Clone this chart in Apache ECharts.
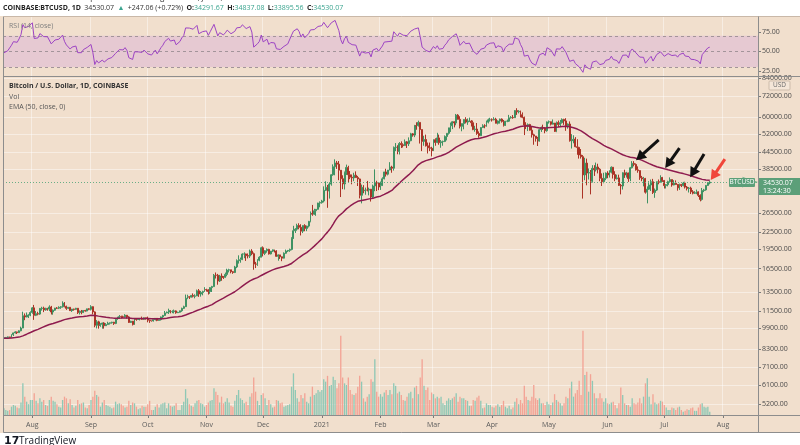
<!DOCTYPE html>
<html>
<head>
<meta charset="utf-8">
<script src="https://cdn.jsdelivr.net/npm/echarts@6/dist/echarts.min.js"></script>
<style>
  html, body { margin: 0; padding: 0; background: #ffffff; }
  #chart { width: 800px; height: 445px; }
</style>
</head>
<body>
<div id="chart"></div>
<script>
// BTCUSD daily, Coinbase, 2020-07-17 .. 2021-07-25 (values read off the picture / estimated)
const startDay = Date.UTC(2020, 6, 17);
const dayCount = 399; // categories incl. empty days on the right side
const firstOpen = 9130;

const closes = [
  // Jul 2020 (17-31)
  9150, 9170, 9210, 9160, 9390, 9530, 9610, 9550, 9700, 9930, 11030, 10920, 11100, 11110, 11350,
  // Aug
  11800, 11070, 11230, 11190, 11740, 11770, 11600, 11750, 11680, 11890, 11390, 11570, 11780, 11770, 11860, 11910,
  12290, 11960, 11750, 11860, 11520, 11680, 11650, 11760, 11330, 11460, 11330, 11540, 11480, 11700, 11660,
  // Sep
  11920, 11400, 10170, 10470, 10160, 10250, 10370, 10130, 10230, 10350, 10390, 10440, 10330, 10680, 10790,
  10950, 10940, 10930, 11080, 10920, 10420, 10530, 10240, 10740, 10690, 10730, 10770, 10700, 10840, 10780,
  // Oct
  10620, 10570, 10550, 10670, 10790, 10600, 10670, 10920, 11060, 11300, 11380, 11540, 11430, 11430, 11500, 11320,
  11370, 11510, 11750, 11920, 12820, 12970, 12930, 13120, 13030, 13070, 13650, 13280, 13460, 13560, 13800,
  // Nov
  13760, 13560, 14030, 14150, 15590, 15580, 14840, 15480, 15330, 15310, 15700, 16290, 16330, 16070, 15960,
  16730, 17660, 17800, 17820, 18680, 18700, 18430, 18370, 19160, 18740, 17150, 17140, 17720, 18180, 19710,
  // Dec
  18790, 19220, 19450, 18700, 19150, 19370, 19180, 18320, 18550, 18250, 18040, 18810, 19170, 19280, 19440, 21350,
  22800, 23110, 23840, 23480, 22720, 23830, 23250, 23720, 24690, 26440, 26250, 27040, 27370, 28880, 28990,
  // Jan 2021
  29390, 32200, 33000, 31990, 33950, 36770, 39380, 40670, 40240, 38240, 35540, 34010, 37390, 39150, 36770, 36020,
  35800, 36630, 35890, 35470, 30850, 33020, 32080, 32260, 32250, 32510, 30420, 33410, 34300, 34290, 33110,
  // Feb
  33520, 35510, 37660, 36950, 38290, 39260, 38880, 46450, 46530, 44850, 48010, 47500, 47170, 48700,
  47940, 49170, 52150, 51590, 55920, 55900, 57490, 54090, 48890, 49680, 47060, 46280, 46110, 45140,
  // Mar
  49590, 48440, 50370, 48370, 48760, 48880, 50970, 52390, 54880, 55850, 57800, 57230, 61190, 59000, 55610, 56900,
  58910, 57650, 58050, 58100, 57350, 54080, 54340, 52300, 51310, 55030, 55840, 55780, 57620, 58770, 58800,
  // Apr
  58740, 59060, 57060, 58200, 59130, 57990, 56000, 58090, 58090, 59770, 59990, 59860, 63590, 62960, 63220,
  61400, 60030, 56230, 55720, 56470, 53800, 51730, 51150, 50110, 49080, 54020, 55020, 54830, 53560, 57720,
  // May
  57830, 56610, 57200, 53240, 57480, 56430, 57380, 58960, 58240, 55840, 56710, 49150, 49720, 49880, 46730, 46430,
  43540, 42910, 36720, 40620, 37310, 37460, 34770, 38830, 38360, 39290, 38540, 35660, 34650, 35680, 37300,
  // Jun
  36690, 37580, 39200, 36850, 35540, 35800, 33580, 33400, 37390, 36690, 37340, 35550, 39020, 40520, 40160,
  38340, 38090, 35820, 35490, 35600, 31680, 32510, 33690, 34640, 31600, 32260, 34650, 34480, 35870, 35040,
  // Jul (1-25)
  33520, 33800, 34670, 35290, 33690, 34220, 33860, 32880, 33810, 33510, 34260, 33090, 32730,
  32820, 31780, 31400, 31530, 31780, 30840, 29790, 32140, 32310, 33580, 34291.67, 34530.07
];

const highs = [
  9190, 9190, 9240, 9220, 9420, 9550, 9670, 9630, 9740, 10050, 11420, 11250, 11340, 11170, 11460,
  11880, 12100, 11480, 11420, 11790, 11910, 11920, 11810, 11800, 12060, 12000, 11640, 11800, 11870, 11960, 11980,
  12480, 12400, 12020, 11890, 11880, 11690, 11710, 11800, 11780, 11540, 11590, 11580, 11600, 11720, 11760,
  12070, 11950, 11460, 10630, 10570, 10350, 10400, 10440, 10360, 10480, 10400, 10480, 10470, 10790, 10940,
  11100, 11040, 11040, 11180, 11100, 10990, 10570, 10550, 10770, 10760, 10790, 10800, 10950, 10860, 10850,
  10950, 10670, 10600, 10690, 10800, 10800, 10690, 10960, 11110, 11490, 11440, 11720, 11560, 11560, 11630, 11550,
  11420, 11520, 11820, 12020, 13220, 13200, 13030, 13160, 13350, 13250, 13790, 13860, 13630, 13660, 14080,
  13890, 13830, 14070, 14240, 15760, 15960, 15770, 15640, 15840, 15470, 15950, 16480, 16480, 16330, 16150,
  16890, 17850, 18480, 18130, 18800, 18960, 18750, 18780, 19410, 19480, 18920, 17470, 17880, 18340, 19870,
  19940, 19300, 19600, 19530, 19160, 19420, 19390, 19300, 18640, 18560, 18290, 18950, 19410, 19350, 19570, 21560,
  23780, 23300, 24200, 24300, 24100, 23840, 24100, 23800, 24790, 26880, 28420, 27500, 27400, 28950, 29300,
  29680, 33300, 34790, 33700, 34500, 36940, 40180, 41950, 41380, 41350, 38290, 36600, 37800, 40100, 39700, 37950,
  36850, 37400, 37850, 36400, 35600, 33800, 33640, 32950, 34880, 32940, 32560, 33800, 38500, 34930, 34400,
  34700, 35980, 37700, 38700, 38300, 40950, 39700, 46800, 48200, 47300, 48600, 48900, 48100, 49700,
  49000, 50600, 52600, 52500, 56300, 57550, 58350, 57500, 54200, 51300, 51800, 48400, 48400, 46700,
  49800, 50200, 52600, 51800, 49450, 49200, 51450, 52400, 54900, 57400, 58100, 58000, 61800, 61700, 60600, 56900,
  58980, 60100, 59450, 59900, 58600, 58400, 55850, 57200, 53250, 55100, 56600, 56600, 58400, 59400, 59800,
  59500, 60100, 59800, 58500, 59400, 59500, 58700, 58200, 58900, 61300, 60700, 61200, 63800, 64900, 63800,
  63600, 62600, 60400, 57600, 57000, 56800, 55500, 52200, 51200, 50800, 54400, 55500, 56400, 55200, 57950,
  58450, 57900, 58950, 57200, 57950, 58400, 58700, 59500, 59300, 59600, 57000, 58000, 52000, 51500, 50700, 49800,
  46700, 45800, 43500, 42500, 42200, 38800, 38300, 39900, 39900, 40800, 40400, 38900, 37200, 37400, 37500,
  37900, 38200, 39500, 39300, 37900, 36800, 36800, 34000, 37550, 38400, 37700, 37450, 39300, 41300, 41300,
  40500, 39500, 38200, 36400, 36100, 35800, 33300, 34800, 35300, 35500, 32700, 34700, 35300, 36600, 36100,
  35100, 33950, 34950, 35950, 35300, 35100, 35050, 33950, 34100, 34000, 34600, 34650, 33400,
  33100, 33200, 32250, 31950, 32400, 31900, 31100, 32850, 32600, 33650, 34500, 34837.08
];

const lows = [
  9080, 9120, 9120, 9140, 9150, 9280, 9480, 9440, 9530, 9660, 9920, 10620, 10880, 10820, 10990,
  11220, 10650, 11000, 11070, 11120, 11530, 11380, 11520, 11520, 11470, 11150, 11130, 11510, 11690, 11680, 11700,
  11830, 11850, 11600, 11680, 11510, 11400, 11520, 11600, 11200, 11150, 11170, 11300, 11420, 11450, 11570,
  11540, 11160, 10000, 9900, 9880, 10040, 9880, 9880, 10110, 10210, 10230, 10310, 10200, 10270, 10650,
  10730, 10780, 10820, 10870, 10770, 10370, 10370, 10150, 10200, 10570, 10660, 10600, 10650, 10640, 10670,
  10430, 10380, 10490, 10500, 10600, 10530, 10580, 10590, 10820, 11020, 11270, 11200, 11260, 11280, 11250, 11220,
  11290, 11330, 11410, 11690, 11890, 12710, 12730, 12890, 12900, 12800, 13050, 12960, 12990, 13130, 13550,
  13560, 13220, 13300, 13510, 14120, 15160, 14380, 14720, 14870, 15100, 15260, 15450, 15970, 15850, 15780,
  15880, 16560, 17220, 17350, 17740, 18030, 17620, 18000, 18060, 18500, 16340, 16570, 16890, 17570, 18180,
  18310, 18520, 18900, 18600, 18620, 19000, 18930, 18240, 17650, 17920, 17580, 18000, 18720, 19000, 19040, 19290,
  21250, 22370, 22800, 23080, 21900, 22350, 22700, 22720, 23450, 24500, 25900, 26100, 25890, 27300, 27850,
  28730, 29030, 32000, 27730, 30000, 33500, 36450, 36600, 38650, 35100, 30400, 32500, 32420, 36700, 34400, 35400,
  33900, 34800, 35800, 33400, 30050, 28800, 31400, 31000, 31900, 30830, 29250, 29950, 31950, 32000, 32250,
  32300, 33420, 35360, 36200, 36570, 38220, 37400, 38100, 45000, 43800, 43700, 46200, 46400, 47050,
  46200, 47000, 48950, 50900, 50700, 54000, 55500, 48000, 45000, 47100, 46800, 44100, 45000, 43000,
  45000, 47100, 48150, 47500, 46300, 47100, 48600, 49300, 51800, 53000, 54300, 55100, 56100, 58900, 54600, 53300,
  54200, 57000, 56300, 57700, 55500, 53800, 53100, 51700, 50400, 51300, 54800, 54700, 55400, 57000, 57900,
  57900, 58500, 57000, 56500, 56900, 57400, 55500, 55800, 57600, 57700, 59400, 59300, 59800, 61300, 62100,
  60000, 59600, 51600, 54300, 53400, 53600, 50500, 47500, 48800, 47000, 48800, 53000, 53900, 52400, 53100,
  56900, 56000, 56500, 53000, 52900, 55300, 55300, 56900, 56300, 53500, 54500, 48800, 46000, 48100, 46500, 43600,
  42200, 42200, 30000, 35100, 33600, 35300, 31100, 34400, 36400, 37800, 37200, 34800, 33400, 34200, 35100,
  35700, 35900, 37200, 35600, 34800, 35300, 33400, 31100, 32400, 35800, 35900, 34600, 34800, 38800, 39500,
  38100, 37400, 35200, 34800, 33300, 31300, 28800, 32300, 32000, 31200, 30200, 32000, 33900, 34300, 34600,
  32700, 32700, 33300, 34300, 33200, 33600, 33800, 32100, 32300, 33100, 33300, 32700, 32150,
  31600, 31200, 31100, 31200, 31150, 30400, 29300, 29500, 31700, 32100, 33400, 33895.56
];

// volume, thousands of BTC
const volumes = [
  8, 6, 5, 6, 10, 12, 11, 9, 8, 15, 38, 22, 16, 13, 18,
  18, 26, 17, 14, 20, 16, 18, 12, 11, 18, 22, 17, 16, 13, 10, 9, 18, 22, 20, 14, 19, 12, 9, 11, 18, 13, 14, 15, 9, 8, 12,
  18, 22, 29, 24, 22, 10, 15, 18, 12, 11, 10, 8, 9, 16, 13, 14, 13, 11, 9, 10, 17, 12, 15, 14, 10, 7, 8, 11, 10, 10,
  13, 17, 6, 6, 10, 13, 9, 13, 14, 15, 8, 14, 11, 10, 11, 14, 6, 6, 12, 16, 31, 20, 13, 11, 10, 14, 17, 18, 14, 13, 10,
  12, 15, 17, 18, 32, 28, 24, 15, 22, 14, 16, 20, 15, 11, 10, 17, 24, 30, 20, 18, 14, 16, 12, 22, 26, 45, 28, 17, 12, 24,
  26, 20, 12, 18, 13, 9, 10, 18, 17, 14, 15, 10, 11, 12, 13, 34, 50, 30, 20, 16, 24, 20, 26, 16, 14, 22, 34, 24, 26, 30, 28,
  30, 43, 40, 47, 35, 36, 46, 42, 32, 38, 95, 45, 38, 36, 45, 30, 25, 24, 26, 34, 47, 40, 20, 16, 22, 25, 43, 40, 67, 28, 22,
  25, 22, 27, 30, 24, 30, 25, 38, 35, 26, 28, 24, 18, 17, 22, 26, 28, 20, 33, 35, 25, 45, 67, 35, 30, 33, 18, 27,
  25, 20, 22, 20, 22, 14, 12, 17, 20, 18, 20, 22, 26, 16, 22, 20, 20, 18, 17, 11, 11, 18, 17, 21, 23, 17, 8, 9, 14, 12, 12,
  10, 9, 11, 13, 10, 12, 17, 10, 8, 11, 7, 9, 16, 20, 13, 18, 14, 35, 22, 18, 17, 22, 36, 20, 18, 20, 14, 14, 12, 16,
  13, 12, 15, 25, 18, 16, 14, 11, 14, 22, 20, 32, 40, 22, 26, 30, 41, 24, 101, 48, 52, 28, 49, 41, 26, 20, 20, 26, 20, 16, 20,
  14, 13, 15, 16, 12, 8, 14, 33, 24, 14, 12, 12, 10, 20, 14, 13, 15, 20, 14, 22, 38, 44, 22, 13, 25, 15, 13, 14, 17, 16,
  12, 9, 6, 6, 9, 8, 6, 9, 10, 6, 4, 5, 7, 6, 8, 9, 5, 5, 9, 13, 14, 10, 9, 10, 4
];

const priceTicks = [84000, 72000, 60000, 52000, 44500, 38500, 26500, 22500, 19500, 16500, 13500, 11500, 9900, 8300, 7100, 6100, 5200];
const rsiTicks = [25, 50, 75];
const rsiLevels = [70, 50, 30];
const monthNames = ['Jan', 'Feb', 'Mar', 'Apr', 'May', 'Jun', 'Jul', 'Aug', 'Sep', 'Oct', 'Nov', 'Dec'];

// indicator seeds (the chart starts after both indicators were already running)
const emaPeriod = 50;
const emaStart = 9100;
const rsiPeriod = 14;
const rsiSeedGain = 45;
const rsiSeedLoss = 50;

// annotation arrows: [tail date, tail price, head date, head price, colour]
const arrows = [
  ['2021-06-28', 49500, '2021-06-18', 42800, '#111111'],
  ['2021-07-09', 46200, '2021-07-03', 40300, '#111111'],
  ['2021-07-22', 43900, '2021-07-16', 37300, '#111111'],
  ['2021-08-02', 42000, '2021-07-27', 36400, '#f0463a']
];

// ---------- build series ----------
const dates = [];
for (let i = 0; i < dayCount; i++) {
  dates.push(new Date(startDay + i * 86400000).toISOString().slice(0, 10));
}

const candles = closes.map((c, i) => {
  const o = i === 0 ? firstOpen : closes[i - 1];
  return [o, c, lows[i], highs[i]];
});

const k = 2 / (emaPeriod + 1);
let ema = emaStart;
const emaLine = closes.map(c => {
  ema = c * k + ema * (1 - k);
  return +ema.toFixed(2);
});

let avgGain = rsiSeedGain, avgLoss = rsiSeedLoss;
const rsiLine = closes.map((c, i) => {
  const prev = i === 0 ? firstOpen : closes[i - 1];
  const ch = c - prev;
  avgGain = (avgGain * (rsiPeriod - 1) + Math.max(ch, 0)) / rsiPeriod;
  avgLoss = (avgLoss * (rsiPeriod - 1) + Math.max(-ch, 0)) / rsiPeriod;
  return +(100 - 100 / (1 + avgGain / avgLoss)).toFixed(2);
});

const upCol = '#3f9263', downCol = '#ab3326';
const volData = volumes.map((v, i) => ({
  value: v,
  itemStyle: { color: candles[i][1] >= candles[i][0] ? '#8fc8b5' : '#f3a395' }
}));

const isMonthStart = (idx, val) => val.slice(8) === '01';
const monthLabel = val => {
  const m = +val.slice(5, 7);
  return m === 1 ? val.slice(0, 4) : monthNames[m - 1];
};

const gridLineCol = 'rgba(255,255,255,0.45)';
const frameCol = '#8d8d8d';
const font = '"Open Sans", "Noto Sans", sans-serif';
const left = 3, right = 42;

function xAxisFor(gridIndex, showLabels) {
  return {
    type: 'category', gridIndex: gridIndex, data: dates, boundaryGap: true,
    axisLine: { show: false },
    axisTick: { show: showLabels, alignWithLabel: true, interval: isMonthStart, length: 3, lineStyle: { color: '#7a7a7a' } },
    axisLabel: { show: showLabels, interval: isMonthStart, formatter: monthLabel, fontSize: 7, color: '#5a5a5a', margin: 6, fontFamily: font },
    splitLine: { show: gridIndex !== 2, interval: isMonthStart, lineStyle: { color: gridLineCol, width: 1 } }
  };
}

const arrowLines = arrows.map(a => [
  { coord: [a[0], a[1]], symbol: 'none', lineStyle: { color: a[4], width: 3, type: 'solid' } },
  { coord: [a[2], a[3]], symbol: 'triangle', symbolSize: [11, 10], itemStyle: { color: a[4] } }
]);

const chart = echarts.init(document.getElementById('chart'));

chart.setOption({
  backgroundColor: '#f1dfcd',
  animation: false,
  textStyle: { fontFamily: font },
  grid: [
    { left: left, right: right, top: 17, height: 59 },
    { left: left, right: right, top: 77, height: 338 },
    { left: left, right: right, top: 315, height: 100 }
  ],
  xAxis: [xAxisFor(0, false), xAxisFor(1, true), xAxisFor(2, false)],
  yAxis: [
    {
      type: 'value', gridIndex: 0, position: 'right', min: 18.6, max: 94,
      axisLine: { show: false },
      axisTick: { show: true, customValues: rsiTicks, length: 3, lineStyle: { color: '#7a7a7a' } },
      axisLabel: { customValues: rsiTicks, formatter: v => v.toFixed(2), fontSize: 7, color: '#4a4a4a', margin: 4, fontFamily: font },
      splitLine: { show: false }
    },
    {
      type: 'log', logBase: 10, gridIndex: 1, position: 'right', min: 4727, max: 84720,
      axisLine: { show: false },
      axisTick: { show: true, customValues: priceTicks, length: 3, lineStyle: { color: '#7a7a7a' } },
      axisLabel: { customValues: priceTicks, formatter: v => v.toFixed(2), fontSize: 7, color: '#4a4a4a', margin: 4, fontFamily: font, hideOverlap: false },
      splitLine: { show: true, lineStyle: { color: gridLineCol } }
    },
    { type: 'value', gridIndex: 2, min: 0, max: 120, show: false }
  ],
  series: [
    {
      name: 'RSI', type: 'line', xAxisIndex: 0, yAxisIndex: 0, data: rsiLine,
      showSymbol: false, lineStyle: { color: '#9d44c4', width: 1 }, z: 5,
      markArea: { silent: true, itemStyle: { color: '#e6c9d2' }, data: [[{ yAxis: 30 }, { yAxis: 70 }]] },
      markLine: {
        silent: true, symbol: 'none', label: { show: false },
        lineStyle: { color: '#a3949a', type: [3, 3], width: 1 },
        data: rsiLevels.map(v => ({ yAxis: v }))
      }
    },
    {
      name: 'Vol', type: 'bar', xAxisIndex: 2, yAxisIndex: 2, data: volData,
      barWidth: '70%', z: 1
    },
    {
      name: 'BTCUSD', type: 'candlestick', xAxisIndex: 1, yAxisIndex: 1, data: candles,
      barWidth: '75%', z: 3,
      itemStyle: { color: upCol, color0: downCol, borderColor: upCol, borderColor0: downCol, borderWidth: 1 },
      markLine: {
        silent: true, animation: false, label: { show: false },
        data: [
          { yAxis: closes[closes.length - 1], symbol: 'none', lineStyle: { color: '#6aae86', type: [1, 2], width: 1 } }
        ].concat(arrowLines)
      }
    },
    {
      name: 'EMA', type: 'line', xAxisIndex: 1, yAxisIndex: 1, data: emaLine,
      showSymbol: false, lineStyle: { color: '#8e1b4e', width: 1.5 }, z: 4
    }
  ]
});

// ---------- chrome: header, legends, frame, price tag ----------
const lastClose = closes[closes.length - 1];
const py = Math.round(chart.convertToPixel({ yAxisIndex: 1 }, lastClose));
const tagCol = '#5c9f79';
const f = (size, weight) => (weight ? weight + ' ' : '') + size + 'px ' + font;

chart.setOption({
  graphic: [
    { type: 'rect', shape: { x: 0, y: 0, width: 800, height: 16 }, style: { fill: '#ffffff' }, z: 100 },
    { type: 'rect', shape: { x: 0, y: 433, width: 800, height: 12 }, style: { fill: '#ffffff' }, z: 100 },
    { type: 'text', x: 4, y: -2, z: 101, style: { text: 'BTCUSD: Bitcoin / Dollar published on TradingView.com, Jul 25, 2021 10:35 UTC', fill: '#222', font: f(7.5), textVerticalAlign: 'middle' } },
    {
      type: 'text', x: 3, y: 7.5, z: 101,
      style: {
        text: '{b|COINBASE:BTCUSD, 1D} {n|34530.07} {g|\u25B2} {n|+247.06 (+0.72%)} {b|O:}{g|34291.67} {b|H:}{g|34837.08} {b|L:}{g|33895.56} {b|C:}{g|34530.07}',
        textVerticalAlign: 'middle',
        rich: {
          b: { fontSize: 7, fontWeight: 'bold', fill: '#1f1f1f', fontFamily: font },
          n: { fontSize: 7, fill: '#333', fontFamily: font },
          g: { fontSize: 7, fill: '#3aa48f', fontFamily: font }
        }
      }
    },
    { type: 'text', x: 9, y: 26, z: 101, style: { text: 'RSI (14, close)', fill: '#7d7d7d', font: f(7), textVerticalAlign: 'middle' } },
    { type: 'text', x: 9, y: 86, z: 101, style: { text: 'Bitcoin / U.S. Dollar, 1D, COINBASE', fill: '#333', font: f(7, 'bold'), textVerticalAlign: 'middle' } },
    { type: 'text', x: 9, y: 96.5, z: 101, style: { text: 'Vol', fill: '#555', font: f(7), textVerticalAlign: 'middle' } },
    { type: 'text', x: 9, y: 107, z: 101, style: { text: 'EMA (50, close, 0)', fill: '#555', font: f(7), textVerticalAlign: 'middle' } },
    // frame
    { type: 'line', z: 101, shape: { x1: 3.5, y1: 16.5, x2: 3.5, y2: 432.5 }, style: { stroke: frameCol, lineWidth: 1 } },
    { type: 'line', z: 101, shape: { x1: 3.5, y1: 16.5, x2: 800, y2: 16.5 }, style: { stroke: '#c9b8a8', lineWidth: 1 } },
    { type: 'line', z: 101, shape: { x1: 3.5, y1: 76.5, x2: 800, y2: 76.5 }, style: { stroke: frameCol, lineWidth: 1 } },
    { type: 'line', z: 101, shape: { x1: 3.5, y1: 415.5, x2: 800, y2: 415.5 }, style: { stroke: frameCol, lineWidth: 1 } },
    { type: 'line', z: 101, shape: { x1: 3.5, y1: 432.5, x2: 800, y2: 432.5 }, style: { stroke: frameCol, lineWidth: 1 } },
    { type: 'line', z: 101, shape: { x1: 758.5, y1: 16.5, x2: 758.5, y2: 432.5 }, style: { stroke: frameCol, lineWidth: 1 } },
    // USD badge
    { type: 'rect', z: 102, shape: { x: 769, y: 81, width: 21, height: 9, r: 1 }, style: { fill: '#f4e6d8', stroke: '#cdbcab', lineWidth: 1 } },
    { type: 'text', z: 103, x: 779.5, y: 85.5, style: { text: 'USD', fill: '#6b6b6b', font: f(6.5), textAlign: 'center', textVerticalAlign: 'middle' } },
    // last price tag
    { type: 'rect', z: 102, shape: { x: 729, y: py - 4, width: 26, height: 9, r: 1 }, style: { fill: tagCol } },
    { type: 'text', z: 103, x: 742, y: py + 0.5, style: { text: 'BTCUSD', fill: '#fff', font: f(6.5), textAlign: 'center', textVerticalAlign: 'middle' } },
    { type: 'rect', z: 102, shape: { x: 759, y: py - 4, width: 41, height: 17 }, style: { fill: tagCol } },
    { type: 'text', z: 103, x: 763, y: py + 1, style: { text: '34530.07', fill: '#fff', font: f(7), textVerticalAlign: 'middle' } },
    { type: 'text', z: 103, x: 763, y: py + 9, style: { text: '13:24:30', fill: '#fff', font: f(7), textVerticalAlign: 'middle' } },
    // TradingView logo
    { type: 'text', z: 103, x: 4, y: 441, style: { text: '17', fill: '#131722', font: 'bold 11px DejaVu Sans', textVerticalAlign: 'middle' } },
    { type: 'text', z: 103, x: 19, y: 441, style: { text: 'TradingView', fill: '#131722', font: '10px Open Sans', textVerticalAlign: 'middle' } }
  ]
});
</script>
</body>
</html>
